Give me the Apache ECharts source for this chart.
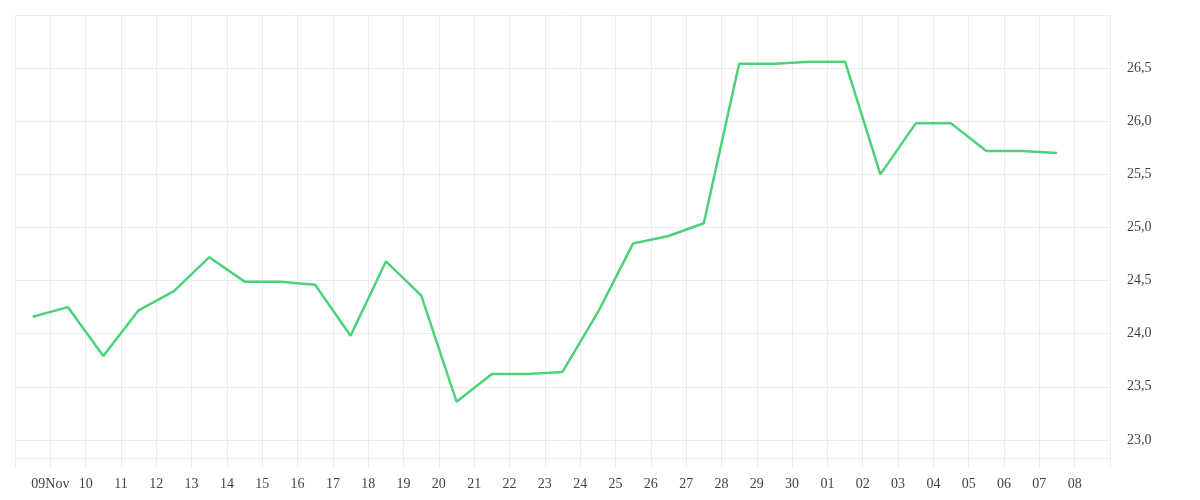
<!DOCTYPE html>
<html>
<head>
<meta charset="utf-8">
<script src="https://cdn.jsdelivr.net/npm/echarts@6/dist/echarts.min.js"></script>
<style>
  html, body { margin: 0; padding: 0; background: #fff; }
  #chart { width: 1200px; height: 500px; }
</style>
</head>
<body>
<div id="chart"></div>
<script>
// Tick labels at day boundaries, Nov 8 .. Dec 9 (first and last unlabeled)
const xTickLabels = ['', '09Nov', '10', '11', '12', '13', '14', '15', '16', '17', '18', '19',
  '20', '21', '22', '23', '24', '25', '26', '27', '28', '29', '30',
  '01', '02', '03', '04', '05', '06', '07', '08', ''];

// Daily values (mid-day), Nov 8 .. Dec 7
const values = [24.16, 24.25, 23.79, 24.22, 24.40, 24.72, 24.49, 24.49, 24.46, 23.98,
  24.68, 24.36, 23.36, 23.62, 23.62, 23.64, 24.20, 24.85, 24.92, 25.04,
  26.54, 26.54, 26.56, 26.56, 25.50, 25.98, 25.98, 25.72, 25.72, 25.70];

const yMin = 22.83;
const yMax = 27;

const gridColor = '#ededed';
const labelFont = 'Liberation Serif';

const chart = echarts.init(document.getElementById('chart'));

chart.setOption({
  animation: false,
  grid: { left: 15, right: 90, top: 15, bottom: 42, containLabel: false },
  xAxis: {
    type: 'value',
    min: 0,
    max: xTickLabels.length - 1,
    interval: 1,
    axisLine: { show: false },
    axisTick: { show: true, length: 10, lineStyle: { color: gridColor } },
    splitLine: { show: true, lineStyle: { color: gridColor } },
    axisLabel: {
      margin: 19,
      color: '#444',
      fontFamily: labelFont,
      fontSize: 14,
      formatter: v => xTickLabels[Math.round(v)] || ''
    }
  },
  yAxis: {
    type: 'value',
    position: 'right',
    min: yMin,
    max: yMax,
    minInterval: 0.5,
    maxInterval: 0.5,
    axisLine: { show: false },
    axisTick: { show: false },
    splitLine: { show: true, lineStyle: { color: gridColor } },
    axisLabel: {
      margin: 17,
      color: '#444',
      fontFamily: labelFont,
      fontSize: 14,
      padding: [6, 0, 0, 0],
      showMinLabel: false,
      showMaxLabel: false,
      formatter: v => v.toFixed(1).replace('.', ',')
    }
  },
  series: [{
    type: 'line',
    data: values.map((v, i) => [i + 0.5, v]),
    showSymbol: false,
    symbol: 'none',
    lineStyle: { color: '#4cd27a', width: 2.5 }
  }]
});
</script>
</body>
</html>
